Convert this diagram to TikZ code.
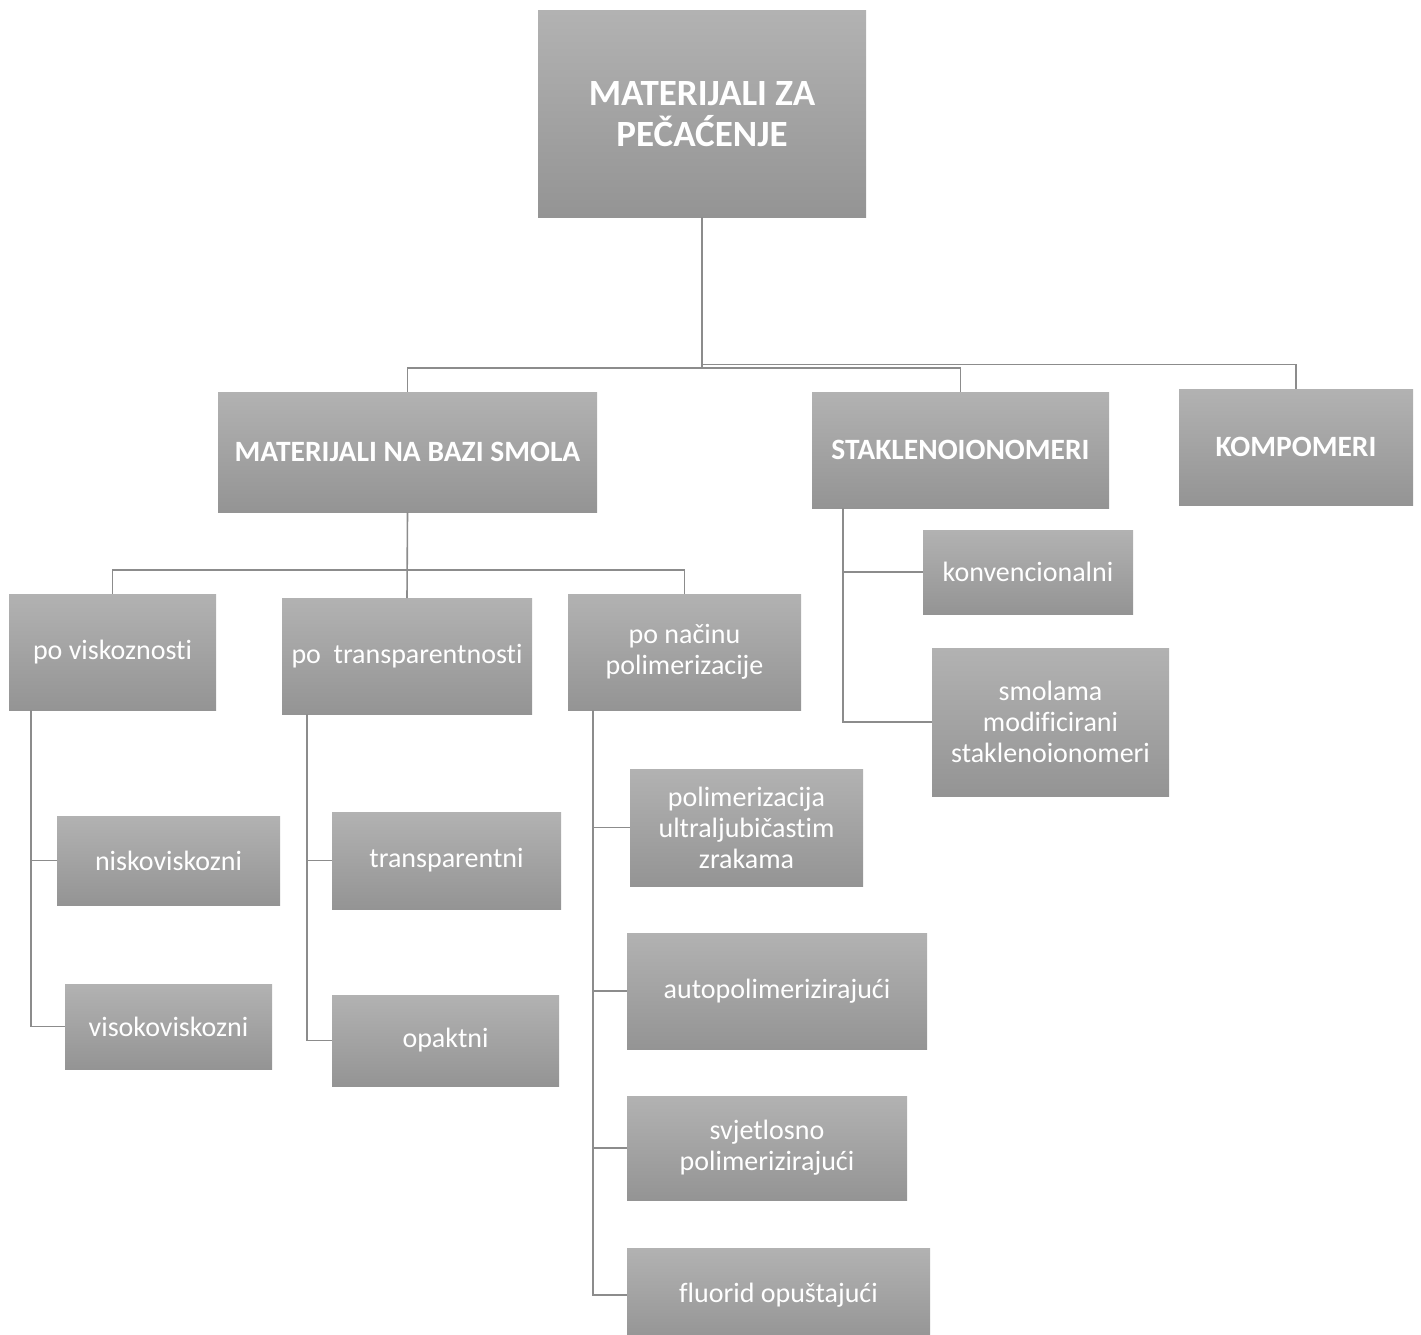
\documentclass[tikz,border=0pt]{standalone}
\usepackage{fontspec}
\setmainfont{Carlito}[Ligatures=NoCommon]
\definecolor{boxtop}{RGB}{178,178,178}
\definecolor{boxbot}{RGB}{148,148,148}
\definecolor{linecol}{RGB}{140,140,140}
\tikzset{
  box/.style={rectangle, inner sep=0pt, outer sep=0pt, top color=boxtop, bottom color=boxbot, draw=none, text=white, align=center, font=\fontsize{28}{31}\selectfont},
  bigbox/.style={box, font=\bfseries\fontsize{29.5}{35}\selectfont},
  rootbox/.style={box, font=\bfseries\fontsize{37}{41}\selectfont},
  conn/.style={draw=linecol, line width=1.6pt}
}
\begin{document}
\begin{tikzpicture}[x=1pt,y=-1pt]
\useasboundingbox (0,0) rectangle (1421,1335);
% level 0
\node[rootbox, minimum width=328pt, minimum height=206pt] (root) at (702,114) {MATERIJALI ZA\\PEČAĆENJE};
% level 1
\node[bigbox, minimum width=379pt, minimum height=120pt] (smole) at (407.5,452) {MATERIJALI NA BAZI SMOLA};
\node[bigbox, minimum width=297pt, minimum height=116pt] (stak) at (960.5,450) {STAKLENOIONOMERI};
\node[bigbox, minimum width=234pt, minimum height=116pt] (komp) at (1296,447) {KOMPOMERI};
% level 2
\node[box, minimum width=207pt, minimum height=116pt] (visk) at (112.5,652) {po viskoznosti};
\node[box, minimum width=250pt, minimum height=116pt] (trans) at (407,656) {po\ \ transparentnosti};
\node[box, minimum width=233pt, minimum height=116pt] (nacin) at (684.5,652) {po načinu\\polimerizacije};
% stakleno children
\node[box, minimum width=210pt, minimum height=84pt] (konv) at (1028,572) {konvencionalni};
\node[box, minimum width=237pt, minimum height=148pt] (smmod) at (1050.5,722) {smolama\\modificirani\\staklenoionomeri};
% viskoznost children
\node[box, minimum width=223pt, minimum height=89pt] (nisko) at (168.5,860.5) {niskoviskozni};
\node[box, minimum width=207pt, minimum height=85pt] (visoko) at (168.5,1026.5) {visokoviskozni};
% transparentnost children
\node[box, minimum width=229pt, minimum height=97pt] (transp) at (446.5,860.5) {transparentni};
\node[box, minimum width=227pt, minimum height=91pt] (opak) at (445.5,1040.5) {opaktni};
% nacin children
\node[box, minimum width=233pt, minimum height=117pt] (uv) at (746.5,827.5) {polimerizacija\\ultraljubičastim\\zrakama};
\node[box, minimum width=300pt, minimum height=116pt] (auto) at (777,991) {autopolimerizirajući};
\node[box, minimum width=280pt, minimum height=104pt] (svj) at (767,1148) {svjetlosno\\polimerizirajući};
\node[box, minimum width=303pt, minimum height=94pt] (fluor) at (778.5,1295) {fluorid opuštajući};
% connectors level 0 -> 1
\draw[conn] (root.south) -- ++(0,147.5) -| (komp.north);
\draw[conn] (root.south) -- ++(0,150.7) -| (smole.north);
\draw[conn] (root.south) ++(0,150.7) -| (stak.north);
% smole -> level 2
\draw[conn] (smole.south) -- ++(0,58) -| (visk.north);
\draw[conn] (smole.south) ++(0,58) -| (nacin.north);
\draw[conn] (smole.south) -- (trans.north);
% stakleno children
\draw[conn] ([xshift=31pt]stak.south west) |- (konv.west);
\draw[conn] ([xshift=31pt]stak.south west) |- (smmod.west);
% viskoznost children
\draw[conn] ([xshift=22pt]visk.south west) |- (nisko.west);
\draw[conn] ([xshift=22pt]visk.south west) |- (visoko.west);
% transparentnost children
\draw[conn] ([xshift=25pt]trans.south west) |- (transp.west);
\draw[conn] ([xshift=25pt]trans.south west) |- (opak.west);
% nacin children
\draw[conn] ([xshift=25pt]nacin.south west) |- (uv.west);
\draw[conn] ([xshift=25pt]nacin.south west) |- (auto.west);
\draw[conn] ([xshift=25pt]nacin.south west) |- (svj.west);
\draw[conn] ([xshift=25pt]nacin.south west) |- (fluor.west);
\end{tikzpicture}
\end{document}
